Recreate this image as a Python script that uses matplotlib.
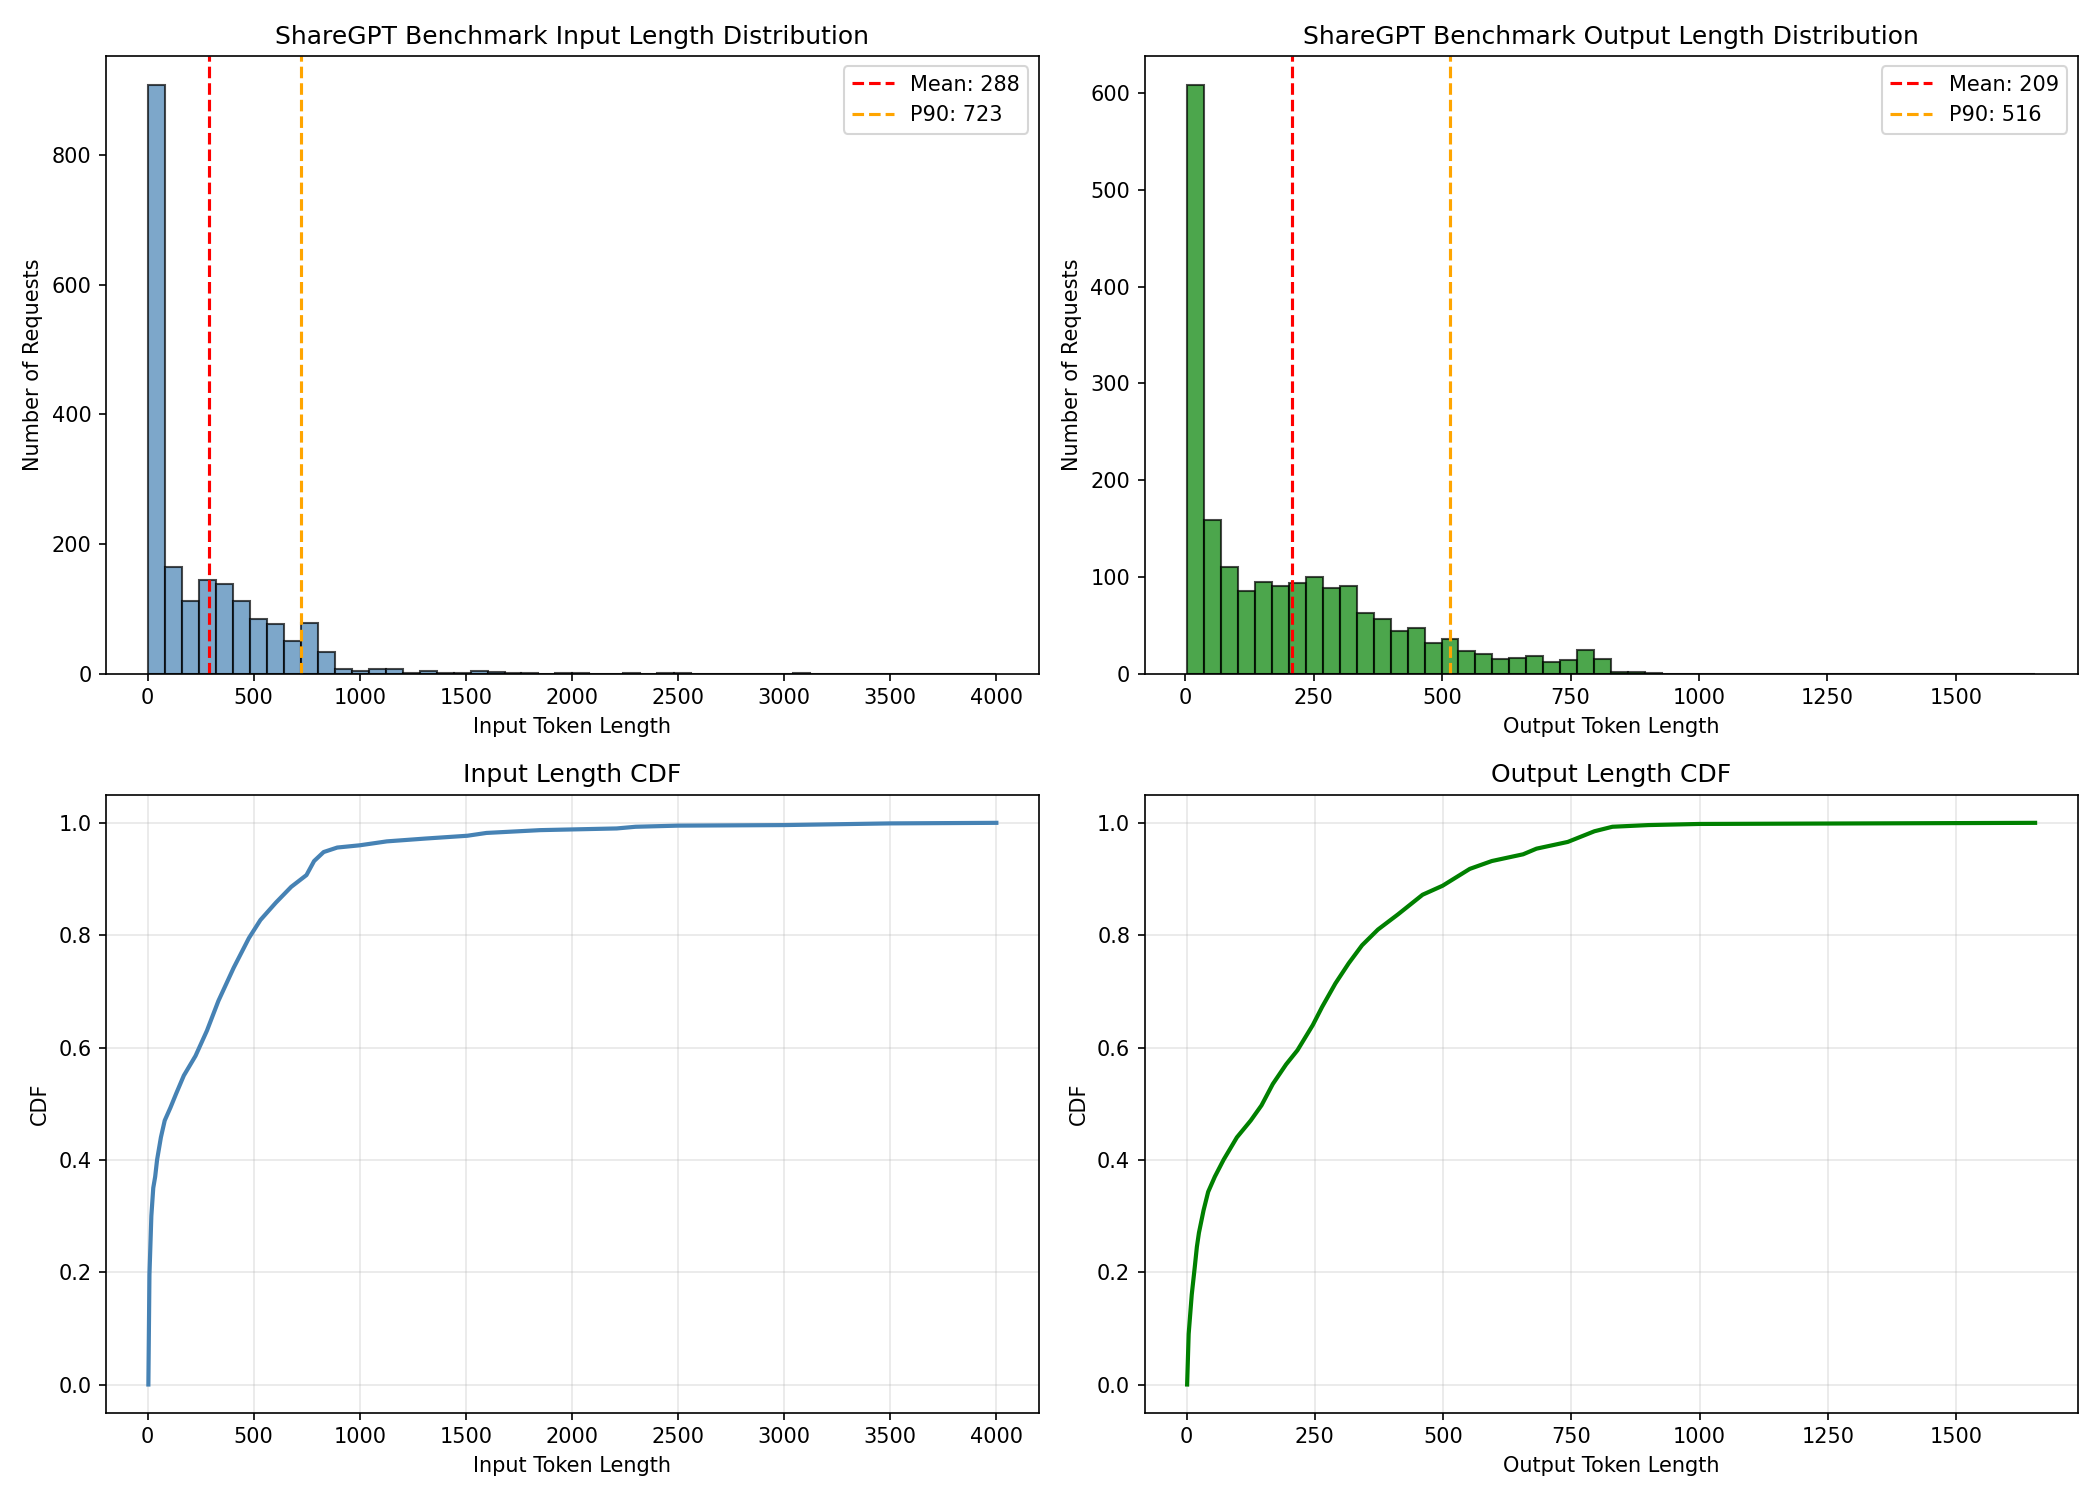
import numpy as np
import matplotlib
matplotlib.use("Agg")
import matplotlib.pyplot as plt

# histogram counts (50 bins each)
in_min, in_max = 4, 4000
in_counts = [907, 164, 112, 144, 139, 113, 84, 77, 51, 78,
             33, 7, 5, 7, 7, 1, 4, 1, 1, 5,
             3, 1, 2, 0, 1, 1, 0, 0, 2, 0,
             1, 1, 0, 0, 0, 0, 0, 0, 1, 0,
             0, 0, 0, 0, 0, 0, 0, 0, 0, 0]

out_min, out_max = 4, 1654
out_counts = [608, 159, 110, 86, 95, 91, 94, 100, 89, 91,
              63, 57, 44, 47, 32, 36, 24, 21, 15, 16,
              18, 12, 14, 25, 15, 2, 2, 1, 0, 0,
              0, 0, 0, 0, 0, 0, 0, 0, 0, 0,
              0, 0, 0, 0, 0, 0, 0, 0, 0, 0]

in_mean, in_p90 = 288, 723
out_mean, out_p90 = 209, 516

# CDF points
in_cdf_x = [4, 9, 18, 27, 36, 45, 63, 81, 108, 135, 171, 226, 280, 334, 406,
            478, 532, 605, 677, 749, 785, 830, 894, 1000, 1128, 1309, 1507,
            1597, 1850, 2211, 2300, 2500, 3000, 3500, 4000]
in_cdf_y = [0.0, 0.195, 0.30, 0.35, 0.37, 0.40, 0.44, 0.47, 0.493, 0.518, 0.55,
            0.585, 0.63, 0.683, 0.742, 0.795, 0.827, 0.858, 0.886, 0.907, 0.932,
            0.948, 0.956, 0.96, 0.967, 0.972, 0.977, 0.982, 0.987, 0.990, 0.993,
            0.995, 0.996, 0.999, 1.0]

out_cdf_x = [1, 4, 10, 16, 20, 24, 33, 42, 55, 72, 98, 125, 146, 168, 194, 216,
             246, 264, 290, 316, 342, 373, 412, 460, 499, 552, 595, 656, 682,
             743, 795, 830, 900, 1000, 1654]
out_cdf_y = [0.0, 0.09, 0.16, 0.21, 0.245, 0.27, 0.31, 0.343, 0.37, 0.40, 0.44,
             0.47, 0.497, 0.535, 0.57, 0.595, 0.64, 0.672, 0.714, 0.75, 0.782,
             0.81, 0.837, 0.872, 0.888, 0.918, 0.932, 0.944, 0.954, 0.966, 0.985,
             0.993, 0.996, 0.998, 1.0]

fig, axes = plt.subplots(2, 2, figsize=(14, 10))

# top row: histograms
def draw_hist(ax, lo, hi, counts, color, mean, p90, title, xlabel):
    edges = np.linspace(lo, hi, len(counts) + 1)
    ax.hist(edges[:-1], bins=edges, weights=counts, color=color,
            alpha=0.7, edgecolor="black")
    ax.axvline(mean, color="red", linestyle="--", linewidth=1.5, label=f"Mean: {mean}")
    ax.axvline(p90, color="orange", linestyle="--", linewidth=1.5, label=f"P90: {p90}")
    ax.set_title(title)
    ax.set_xlabel(xlabel)
    ax.set_ylabel("Number of Requests")
    ax.legend(loc="upper right")

draw_hist(axes[0, 0], in_min, in_max, in_counts, "steelblue", in_mean, in_p90,
          "ShareGPT Benchmark Input Length Distribution", "Input Token Length")
draw_hist(axes[0, 1], out_min, out_max, out_counts, "green", out_mean, out_p90,
          "ShareGPT Benchmark Output Length Distribution", "Output Token Length")

# bottom row: CDFs
ax = axes[1, 0]
ax.plot(in_cdf_x, in_cdf_y, color="steelblue", linewidth=2)
ax.set_title("Input Length CDF")
ax.set_xlabel("Input Token Length")
ax.set_ylabel("CDF")
ax.grid(True, alpha=0.3)

ax = axes[1, 1]
ax.plot(out_cdf_x, out_cdf_y, color="green", linewidth=2)
ax.set_title("Output Length CDF")
ax.set_xlabel("Output Token Length")
ax.set_ylabel("CDF")
ax.grid(True, alpha=0.3)

plt.tight_layout()
plt.savefig("out.png", dpi=150)
